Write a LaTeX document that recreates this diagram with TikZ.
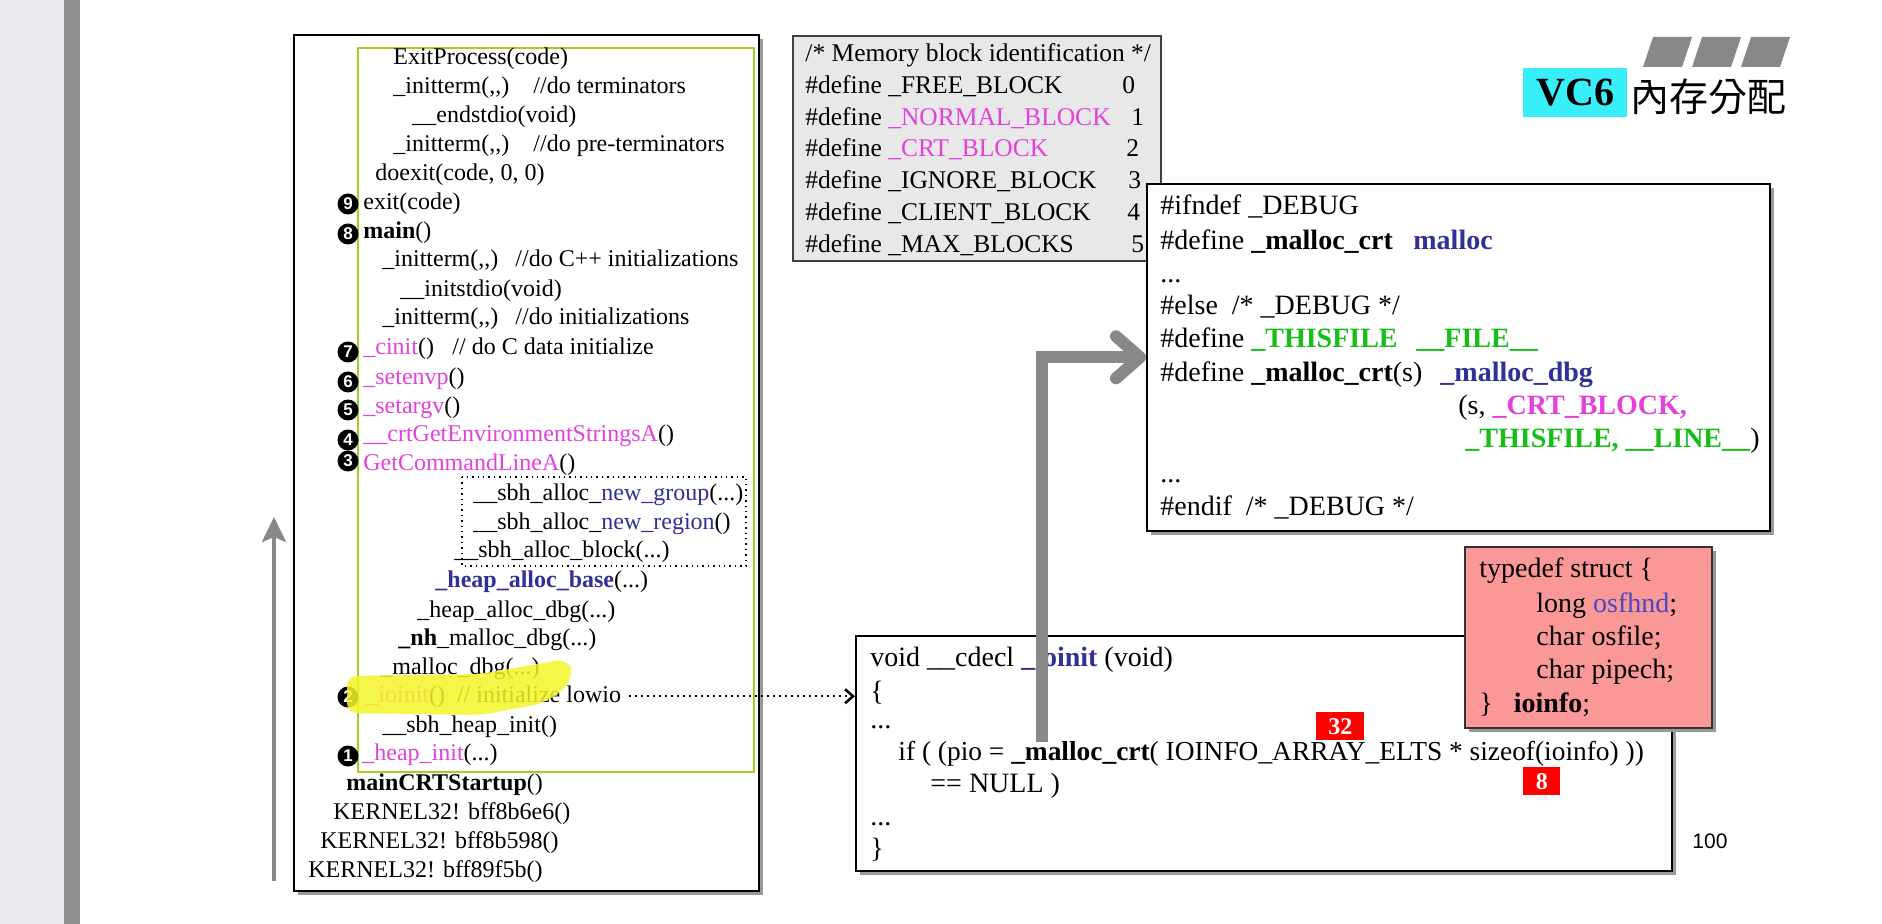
\documentclass[tikz,border=0pt]{standalone}
\usepackage{fontspec}
\setmainfont{Liberation Serif}
\setsansfont{Liberation Sans}
\newfontfamily\cjkfont{Noto Sans CJK TC}
\usetikzlibrary{arrows.meta,shadows}

\definecolor{vcpink}{RGB}{228,64,222}
\definecolor{vcnavy}{RGB}{48,48,150}
\definecolor{vcblue}{RGB}{72,72,190}
\definecolor{vcgreen}{RGB}{24,190,24}
\definecolor{vcsalmon}{RGB}{250,152,152}
\definecolor{vccyan}{RGB}{56,238,248}
\definecolor{vclime}{RGB}{160,208,40}
\definecolor{vcgray}{RGB}{136,136,136}
\definecolor{vcband}{RGB}{231,233,238}
\definecolor{vcstripe}{RGB}{143,143,143}
\definecolor{vcdefbg}{RGB}{232,232,232}
\definecolor{vcyellow}{RGB}{245,245,40}

\newcommand{\pk}[1]{\textcolor{vcpink}{#1}}
\newcommand{\nv}[1]{\textcolor{vcnavy}{#1}}
\newcommand{\gn}[1]{\textcolor{vcgreen}{\textbf{#1}}}

\begin{document}
\begin{tikzpicture}[x=0.5pt, y=-0.5pt,
    codeline/.style={anchor=base west, inner sep=0pt},
    stacktxt/.style={codeline, font=\fontsize{12}{14}\selectfont},
    deftxt/.style={codeline, font=\fontsize{12.75}{15}\selectfont},
    srctxt/.style={codeline, font=\fontsize{14}{16}\selectfont},
    callno/.style={circle, fill=black, text=white, inner sep=0pt, minimum size=10.5pt,
        font=\sffamily\bfseries\fontsize{8.5}{8.5}\selectfont},
    boxshadow/.style={drop shadow={shadow xshift=2pt, shadow yshift=-2pt, fill=black!40, opacity=1}},
    codebox/.style={draw=black, line width=0.8pt, fill=white, anchor=north west, inner sep=0pt},
    redtag/.style={fill=red, text=white, font=\bfseries\fontsize{12}{12}\selectfont,
        inner sep=0pt, anchor=north west}]

    \useasboundingbox (0,0) rectangle (1882,924);

    % page edge
    \fill[vcband] (0,0) rectangle (64,924);
    \fill[vcstripe] (64,0) rectangle (80,924);

    % call stack arrow
    \coordinate (stackbot) at (274,881);
    \coordinate (stacktop) at (274,517);
    \draw[vcgray, line width=2.2pt, -{Stealth[length=12.5pt, width=12pt, inset=2.5pt]}] (stackbot) -- (stacktop);

    % call stack
    \node[codebox, boxshadow, minimum width=232.5pt, minimum height=428pt] (stackbox) at (293,34) {};
    \draw[vclime, line width=1.1pt] (358,48) rectangle (754,772);
    \draw[dotted, line width=0.7pt] (462,477) rectangle (746,566);

    \node[stacktxt] (exitproc) at (393,65) {ExitProcess(code)};
    \node[stacktxt] (term) at (393,94) {\_initterm(,{},)};
    \node[stacktxt] (termc) at (533,94) {//do terminators};
    \node[stacktxt] (endio) at (412,123) {\_\_endstdio(void)};
    \node[stacktxt] (preterm) at (393,152) {\_initterm(,{},)};
    \node[stacktxt] (pretermc) at (533,152) {//do pre-terminators};
    \node[stacktxt] (doexit) at (375,181) {doexit(code, 0, 0)};
    \node[stacktxt] (exitf) at (363,210) {exit(code)};
    \node[stacktxt] (mainf) at (363,239) {\textbf{main}()};
    \node[stacktxt] (cppinit) at (382,267) {\_initterm(,{},)};
    \node[stacktxt] (cppinitc) at (515,267) {//do C++ initializations};
    \node[stacktxt] (initio) at (400,297) {\_\_initstdio(void)};
    \node[stacktxt] (cinit) at (382,325) {\_initterm(,{},)};
    \node[stacktxt] (cinitc) at (515,325) {//do initializations};
    \node[stacktxt] (cinitf) at (363,355) {\pk{\_cinit}()};
    \node[stacktxt] (cinitfc) at (452,355) {// do C data initialize};
    \node[stacktxt] (envp) at (363,385) {\pk{\_setenvp}()};
    \node[stacktxt] (argv) at (363,414) {\pk{\_setargv}()};
    \node[stacktxt] (envstr) at (363,442) {\pk{\_\_crtGetEnvironmentStringsA}()};
    \node[stacktxt] (cmdline) at (363,471) {\pk{GetCommandLineA}()};
    \node[stacktxt] (newgroup) at (473,500) {\_\_sbh\_alloc\_\nv{new\_group}(...)};
    \node[stacktxt] (newregion) at (473,529) {\_\_sbh\_alloc\_\nv{new\_region}()};
    \node[stacktxt] (sbhblock) at (454,557) {\_\_sbh\_alloc\_block(...)};
    \node[stacktxt] (allocbase) at (435,587) {\nv{\textbf{\_heap\_alloc\_base}}(...)};
    \node[stacktxt] (allocdbg) at (417,617) {\_heap\_alloc\_dbg(...)};
    \node[stacktxt] (nhmalloc) at (398,645) {\textbf{\_nh}\_malloc\_dbg(...)};
    \node[stacktxt] (mallocdbg) at (380,674) {\_malloc\_dbg(...)};
    \node[stacktxt] (ioinitf) at (366,702) {\pk{\_ioinit}()\ \ // initialize lowio};
    \node[stacktxt] (sbhinit) at (382,732) {\_\_sbh\_heap\_init()};
    \node[stacktxt] (heapinit) at (362,760) {\pk{\_heap\_init}(...)};
    \node[stacktxt] (crtstart) at (346,790) {\textbf{mainCRTStartup}()};
    \foreach \addr/\x/\y in {bff8b6e6/333/819, bff8b598/320/848, bff89f5b/308/877}
        \node[stacktxt] (k\addr) at (\x,\y) {KERNEL32! \addr()};

    \foreach \n/\y in {9/204, 8/234, 7/352, 6/382, 5/410, 4/440, 3/461, 2/697, 1/756}
        \node[callno] (no\n) at (348,\y) {\n};

    \fill[vcyellow, opacity=0.85, rounded corners=5pt] (347,676) -- (480,674) -- (532,665) -- (566,659)
        -- (574,673) -- (562,692) -- (540,704) -- (480,715) -- (347,713) -- cycle;

    % block types
    \node[codebox, fill=vcdefbg, draw=black!75, minimum width=184pt, minimum height=112.5pt] (defbox) at (792,35) {};
    \node[deftxt] (defhead) at (805,62) {/* Memory block identification */};
    \foreach \name/\val/\x/\y in {{\_FREE\_BLOCK}/0/1122/94, {\pk{\_NORMAL\_BLOCK}}/1/1131/126,
        {\pk{\_CRT\_BLOCK}}/2/1126/157, {\_IGNORE\_BLOCK}/3/1128/189,
        {\_CLIENT\_BLOCK}/4/1127/221, {\_MAX\_BLOCKS}/5/1131/253} {
        \node[deftxt] (def\val) at (805,\y) {\#define \name};
        \node[deftxt] (val\val) at (\x,\y) {\val};
    }

    % debug macros
    \node[codebox, boxshadow, minimum width=311.5pt, minimum height=173.5pt] (dbgbox) at (1146,183) {};
    \node[srctxt] (ifndef) at (1160,215) {\#ifndef \_DEBUG};
    \node[srctxt] (defcrt) at (1160,250) {\#define \textbf{\_malloc\_crt}};
    \node[srctxt] (defcrtv) at (1413,250) {\nv{\textbf{malloc}}};
    \node[srctxt] (dotsa) at (1160,283) {...};
    \node[srctxt] (elsedbg) at (1160,315) {\#else\ \ /* \_DEBUG */};
    \node[srctxt] (thisfile) at (1160,348) {\#define \gn{\_THISFILE}};
    \node[srctxt] (thisfilev) at (1416,348) {\gn{\_\_FILE\_\_}};
    \node[srctxt] (defdbg) at (1160,382) {\#define \textbf{\_malloc\_crt}(s)};
    \node[srctxt] (defdbgv) at (1440,382) {\nv{\textbf{\_malloc\_dbg}}};
    \node[srctxt] (dbgargs) at (1458,415) {(s, \textbf{\pk{\_CRT\_BLOCK,}}};
    \node[srctxt] (dbgargsb) at (1465,448) {\gn{\_THISFILE, \_\_LINE\_\_})};
    \node[srctxt] (dotsb) at (1160,482) {...};
    \node[srctxt] (endifdbg) at (1160,515) {\#endif\ \ /* \_DEBUG */};

    % _ioinit
    \node[codebox, boxshadow, minimum width=408pt, minimum height=117.5pt] (iobox) at (855,635) {};
    \node[srctxt] (iodecl) at (870,666) {void \_\_cdecl \nv{\textbf{\_ioinit}} (void)};
    \node[srctxt] (obrace) at (870,700) {\{};
    \node[srctxt] (dotsc) at (870,728) {...};
    \node[srctxt, font=\fontsize{13.7}{16}\selectfont] (pioline) at (898,760)
        {if ( (pio = \textbf{\_malloc\_crt}( IOINFO\_ARRAY\_ELTS * sizeof(ioinfo) ))};
    \node[srctxt] (nullline) at (930,792) {== NULL )};
    \node[srctxt] (dotsd) at (870,825) {...};
    \node[srctxt] (cbrace) at (870,857) {\}};

    % ioinfo
    \node[codebox, boxshadow, fill=vcsalmon, draw=black!80, minimum width=123.5pt, minimum height=90.5pt] (infobox) at (1464,546) {};
    \node[srctxt] (tdef) at (1479,577) {typedef struct \{};
    \node[srctxt] (fhnd) at (1536,612) {long \textcolor{vcblue}{osfhnd};};
    \node[srctxt] (ofile) at (1536,645) {char osfile;};
    \node[srctxt] (opipe) at (1536,678) {char pipech;};
    \node[srctxt] (tname) at (1479,712) {\}\ \ \ \textbf{ioinfo};};

    \node[redtag, minimum width=24pt, minimum height=14pt] (tag32) at (1316,712) {32};
    \node[redtag, minimum width=18.5pt, minimum height=14pt] (tag8) at (1523,767) {8};

    % connectors
    \coordinate (crtcall) at (1042,742);
    \draw[vcgray, line width=6pt, -{Straight Barb[length=12pt, width=21pt, round]}] (crtcall) |- (dbgbox.west);
    \draw[dotted, line width=1pt, -{Straight Barb[length=4pt, width=7pt, line width=1.3pt]}]
        ([xshift=4pt]ioinitf.east) -- (ioinitf.east -| iobox.west);

    % title
    \foreach \i in {0,1,2}
        \fill[vcgray] ({1643+49*\i},67) -- ++(10,-30) -- ++(39,0) -- ++(-10,30) -- cycle;
    \node[fill=vccyan, anchor=north west, minimum width=52pt, minimum height=24.5pt, inner sep=0pt,
        font=\bfseries\fontsize{20}{20}\selectfont] (vctag) at (1523,68) {VC6};
    \node[codeline, font=\cjkfont\fontsize{19.5}{20}\selectfont] (vctitle) at (1630,112) {內存分配};

    \node[codeline, font=\sffamily\fontsize{10.5}{12}\selectfont] (pageno) at (1692,848) {100};

\end{tikzpicture}
\end{document}
